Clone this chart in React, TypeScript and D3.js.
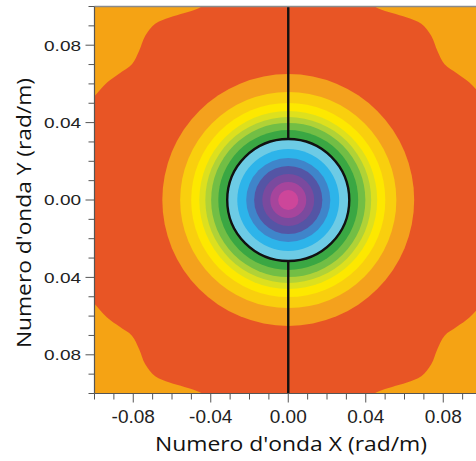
import React from "react";
import * as d3 from "d3";

// ---- data ----
// ring bands: outer radius (rad/m) and colour, outer to inner
const ringRadii = [0.065, 0.0558, 0.0501, 0.0459, 0.0428, 0.0398, 0.0361, 0.0315, 0.0263, 0.0217, 0.0176, 0.0134, 0.0093, 0.0052];
const ringColors = ["#F4A11D", "#F9CF0E", "#FDE800", "#DDE01E", "#B0D237", "#72BE45", "#3AA743", "#6DCBE5", "#2DB4EA", "#3F85CA", "#5455A5", "#7A4A9E", "#A6459C", "#CD469A"];
// outer boundary of the red zone: angle from horizontal (deg) within a quadrant -> radius (rad/m)
const boundaryAngle = [0, 15, 22, 28, 33, 37, 41, 45, 49, 53, 57, 61, 65, 72, 80, 90];
const boundaryRadius = [0.134, 0.124, 0.1177, 0.1136, 0.1115, 0.1089, 0.1069, 0.1089, 0.1125, 0.1141, 0.1125, 0.1105, 0.1094, 0.1115, 0.1213, 0.1316];
const circleRadius = 0.0315;
const xTickValues = [-0.08, -0.04, 0.0, 0.04, 0.08];
const xTickLabels = ["-0.08", "-0.04", "0.00", "0.04", "0.08"];
const yTickValues = [0.08, 0.04, 0.0, -0.04, -0.08];
const yTickLabels = ["0.08", "0.04", "0.00", "0.04", "0.08"];
const minorTicks = d3.range(-10, 11).map((i) => i / 100);
const xTitle = "Numero d'onda X (rad/m)";
const yTitle = "Numero d'onda Y (rad/m)";

const cornerColor = "#F5A314";
const redColor = "#E85525";

export default function App() {
  const W = 476, H = 461;
  const left = 94.5, top = 6.5, bottom = 393.5;
  const x = d3.scaleLinear().domain([-0.1, 0.1]).range([left, 482]);
  const y = d3.scaleLinear().domain([-0.1, 0.1]).range([bottom, top]);
  const pxPerUnit = x(1) - x(0);

  // boundary polygon around the whole plane
  const pts: [number, number][] = [];
  const quads = [
    (p: number) => p,
    (p: number) => 180 - p,
    (p: number) => 180 + p,
    (p: number) => 360 - p,
  ];
  const all: { t: number; r: number }[] = [];
  quads.forEach((q) => {
    boundaryAngle.forEach((a, i) => {
      all.push({ t: ((q(a) % 360) + 360) % 360, r: boundaryRadius[i] });
    });
  });
  all.sort((a, b) => a.t - b.t);
  const uniq = all.filter((d, i) => i === 0 || Math.abs(d.t - all[i - 1].t) > 0.01);
  uniq.forEach((d) => {
    const th = (d.t * Math.PI) / 180;
    pts.push([x(d.r * Math.cos(th)), y(d.r * Math.sin(th))]);
  });
  const boundaryPath = d3.line().curve(d3.curveCatmullRomClosed.alpha(0.5))(pts) || "";

  const cx = x(0), cy = y(0);
  const tickFont = "'Liberation Sans', Arial, sans-serif";
  const titleFont = "'Open Sans', 'Noto Sans', sans-serif";

  return (
    <svg width={W} height={H} style={{ position: "absolute", left: 0, top: 0, background: "#fff" }}>
      <defs>
        <clipPath id="plotClip">
          <rect x={left} y={top} width={x(0.1) - left} height={bottom - top} />
        </clipPath>
      </defs>
      <g clipPath="url(#plotClip)">
        <rect x={left} y={top} width={x(0.1) - left} height={bottom - top} fill={cornerColor} />
        <path d={boundaryPath} fill={redColor} />
        {ringRadii.map((r, i) => (
          <circle key={i} cx={cx} cy={cy} r={r * pxPerUnit} fill={ringColors[i]} />
        ))}
        <circle cx={cx} cy={cy} r={circleRadius * pxPerUnit} fill="none" stroke="#111" strokeWidth={2.4} />
        <line x1={cx} x2={cx} y1={top} y2={y(circleRadius)} stroke="#111" strokeWidth={2.4} />
        <line x1={cx} x2={cx} y1={y(-circleRadius)} y2={bottom} stroke="#111" strokeWidth={2.4} />
      </g>
      {/* frame */}
      <line x1={left} x2={W} y1={top} y2={top} stroke="#8a8a8a" strokeWidth={1.5} />
      <line x1={left} x2={left} y1={top} y2={bottom} stroke="#555" strokeWidth={1.2} />
      <line x1={left} x2={W} y1={bottom} y2={bottom} stroke="#555" strokeWidth={1.2} />
      {/* minor & major ticks */}
      {minorTicks.map((v, i) => {
        const major = Math.abs(Math.round(v * 100)) % 4 === 0;
        const len = major ? 9 : 6;
        return (
          <g key={i}>
            <line x1={left - len} x2={left} y1={y(v)} y2={y(v)} stroke="#555" strokeWidth={1} />
            <line x1={x(v)} x2={x(v)} y1={bottom} y2={bottom + len} stroke="#555" strokeWidth={1} />
          </g>
        );
      })}
      {xTickValues.map((v, i) => (
        <text key={i} x={x(v)} y={423} textAnchor="middle" fontFamily={tickFont} fontSize={19} fill="#222">
          {xTickLabels[i]}
        </text>
      ))}
      {yTickValues.map((v, i) => (
        <text
          key={i}
          transform={`translate(81,${y(v)}) scale(1,0.8)`}
          x={0}
          y={0}
          dy="0.36em"
          textAnchor="end"
          fontFamily={tickFont}
          fontSize={19}
          fill="#222"
        >
          {yTickLabels[i]}
        </text>
      ))}
      <text x={291} y={451} textAnchor="middle" fontFamily={titleFont} fontSize={20} fill="#111" textLength={272} lengthAdjust="spacingAndGlyphs">
        {xTitle}
      </text>
      <text
        transform={`translate(31,213) rotate(-90)`}
        textAnchor="middle"
        fontFamily={titleFont}
        fontSize={20}
        fill="#111"
        textLength={270}
        lengthAdjust="spacingAndGlyphs"
      >
        {yTitle}
      </text>
    </svg>
  );
}
